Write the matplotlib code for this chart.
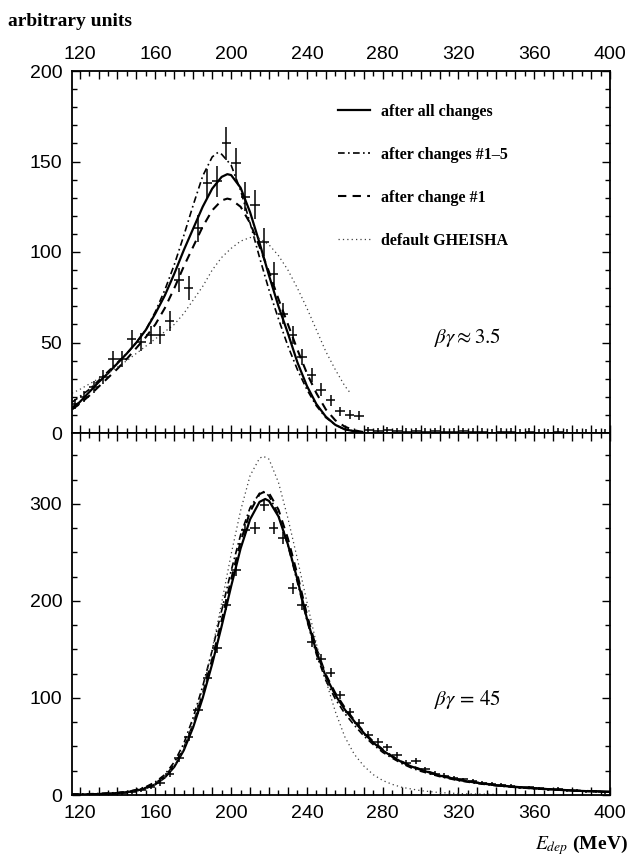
import numpy as np
import matplotlib
matplotlib.use('Agg')
import matplotlib.pyplot as plt
from matplotlib.ticker import MultipleLocator, FuncFormatter
from matplotlib.lines import Line2D

plt.rcParams['font.family'] = ['Liberation Sans', 'DejaVu Sans']
plt.rcParams['mathtext.fontset'] = 'stix'

# 5 MeV bin centres of the measured spectra
e_bins = [117.5, 122.5, 127.5, 132.5, 137.5, 142.5, 147.5, 152.5, 157.5, 162.5,
          167.5, 172.5, 177.5, 182.5, 187.5, 192.5, 197.5, 202.5, 207.5, 212.5,
          217.5, 222.5, 227.5, 232.5, 237.5, 242.5, 247.5, 252.5, 257.5, 262.5,
          267.5, 272.5, 277.5, 282.5, 287.5, 292.5, 297.5, 302.5, 307.5, 312.5,
          317.5, 322.5, 327.5, 332.5, 337.5, 342.5, 347.5, 352.5, 357.5, 362.5,
          367.5, 372.5, 377.5, 382.5, 387.5, 392.5, 397.5]

# beta*gamma ~ 3.5 data
top_data = [16, 20, 25.5, 31, 41, 41, 52, 50.5, 54, 54,
            62, 84.5, 80, 113, 138, 139, 160, 149, 130.5, 126,
            105.5, 88, 66, 54, 42, 32, 24, 18, 12, 10,
            9.5, 1.5, 1, 1.5, 1, 0.5, 1, 0.5, 1, 0.5,
            0.5, 1, 0.5, 0.5, 0, 0.5, 0.5, 0, 0.5, 0,
            0, 0.5, 0, 0, 0, 0, 0]
top_err = [3, 3, 3.5, 4, 4.5, 4.5, 5, 5, 5, 5,
           5.5, 6.5, 6.5, 7.5, 8, 8.5, 9, 8.5, 8, 8,
           7.5, 6.5, 6, 5, 4.5, 4, 3.5, 3, 2.5, 2.5,
           2.5, 2, 2, 2, 2, 2, 2, 2, 2, 2,
           2, 2, 2, 2, 2, 2, 2, 2, 2, 2,
           2, 2, 2, 2, 2, 2, 2]

# beta*gamma = 45 data
bot_data = [0.5, 0.5, 1, 1, 1.5, 2, 3, 5, 8, 12,
            22, 38, 60, 88, 121, 151, 196, 232, 273, 275,
            299, 275, 265, 213, 196, 158, 140, 126, 103, 86,
            74, 62, 55, 49, 41, 33, 35, 26.5, 22, 20,
            18, 16, 14, 12.5, 11, 10.5, 9, 8, 8, 7,
            6, 6.5, 5, 4.5, 4, 4, 3]
bot_err = [1, 1, 1, 1, 1, 1.5, 1.5, 2, 2, 2.5,
           3, 3.5, 4, 4.5, 5, 5, 5.5, 6, 6, 6,
           6.5, 6, 6, 5.5, 5.5, 5, 5, 4.5, 4.5, 4,
           4, 3.5, 3.5, 3.5, 3, 3, 3, 2.5, 2.5, 2.5,
           2, 2, 2, 2, 2, 2, 2, 1.5, 1.5, 1.5,
           1.5, 1.5, 1.5, 1.5, 1.5, 1.5, 1.5]

# simulated curves, top panel
e_top = [116, 120, 125, 130, 135, 140, 145, 150, 155, 160, 165, 170, 175, 180,
         185, 190, 195, 198, 200, 205, 210, 215, 220, 225, 230, 235, 240, 245,
         250, 255, 260, 265, 270]
top_all = [14, 17, 22.5, 28, 33, 38.5, 44, 50, 57, 66, 76, 88, 101, 113,
           125, 135, 141.5, 143, 142.5, 135.5, 122, 105, 87, 70, 55, 39, 26, 16,
           9, 4.5, 2, 1, 0]
top_c1 = [13, 16, 20.5, 25.5, 30.5, 35.5, 41, 47, 53, 60, 69, 80, 92, 103,
          114, 123, 128.5, 129.5, 129, 125, 116, 103, 89, 74, 60, 46, 33, 22,
          13, 7, 3.5, 1.5, 0.5]
e_top15 = [116, 120, 125, 130, 135, 140, 145, 150, 155, 160, 165, 170, 175, 180,
           185, 190, 193, 195, 200, 205, 210, 215, 220, 225, 230, 235, 240, 245,
           250, 255, 260, 265, 270]
top_c15 = [17, 20, 24, 29, 34, 39, 44, 50, 57, 67, 79, 93, 109, 126,
           142, 152.5, 155, 154, 148, 134, 116, 97, 79, 63, 48, 35, 24, 15,
           8.5, 4.5, 2, 1, 0]
e_topg = [116, 120, 125, 130, 135, 140, 145, 150, 155, 160, 165, 170, 175, 180,
          185, 190, 195, 200, 205, 210, 215, 220, 225, 230, 235, 240, 245, 250,
          255, 260, 263]
top_gh = [22, 24, 27, 30, 33, 36.5, 40, 44, 48, 52, 56, 60, 66, 73.5,
          81, 90, 97, 102, 106, 108, 107.5, 104, 98, 90, 80, 69, 57, 45,
          35, 26, 22]

# simulated curves, bottom panel
e_bot = [116, 120, 130, 140, 145, 150, 155, 160, 165, 170, 175, 180, 185, 190,
         195, 200, 205, 210, 215, 218, 220, 225, 230, 235, 240, 245, 250, 255,
         260, 265, 270, 275, 280, 285, 290, 295, 300, 310, 320, 330, 340, 350,
         360, 370, 380, 390, 400]
bot_all = [0.5, 0.5, 1, 2, 3, 4.5, 7, 11, 18, 29, 46, 70, 100, 135,
           174, 215, 254, 284, 302, 305, 303, 287, 258, 222, 182, 148, 122, 103,
           88, 76, 64, 54, 46, 39.5, 34, 29.5, 26, 20, 15.5, 12.5, 10, 8.2,
           6.8, 5.6, 4.6, 3.8, 3.2]
bot_c1 = [0.5, 0.5, 1, 2, 3, 5, 7.5, 12, 19, 31, 48, 73, 104, 140,
          180, 222, 261, 292, 310, 313, 311, 294, 264, 227, 186, 151, 124, 105,
          90, 77, 65, 55, 47, 40, 34.5, 30, 26.5, 20.5, 16, 12.8, 10.3, 8.5,
          7, 5.8, 4.8, 4, 3.4]
bot_c15 = [1, 1, 1.5, 2.5, 3.5, 5.5, 8.5, 13.5, 21, 34, 53, 80, 112, 149,
           190, 231, 268, 296, 311, 312, 308, 289, 257, 219, 180, 145, 118, 99,
           84, 72, 61, 52, 44, 38, 32.5, 28, 24.5, 19, 14.8, 11.8, 9.5, 7.8,
           6.4, 5.3, 4.4, 3.6, 3]
e_botg = [116, 120, 130, 140, 150, 155, 160, 165, 170, 175, 180, 185, 190, 195,
          200, 205, 210, 215, 217, 220, 225, 230, 235, 240, 245, 250, 255, 260,
          265, 270, 275, 280, 285, 290, 300, 310, 320, 330, 340]
bot_gh = [0.2, 0.3, 0.8, 1.5, 4, 6.5, 11, 18, 30, 48, 74, 108, 150, 198,
          248, 293, 329, 347, 349, 346, 322, 285, 243, 199, 156, 118, 86, 60,
          42, 30, 21, 15, 11, 8, 4.5, 2.5, 1.5, 1, 0.6]

legend_labels = ['after all changes', 'after changes #1\u20135',
                 'after change #1', 'default GHEISHA']

st_all = dict(color='black', lw=1.6, ls='-')
st_15 = dict(color='black', lw=1.2, ls=(0, (4, 2, 1, 2)))
st_1 = dict(color='black', lw=1.5, ls=(0, (4, 3)))
st_gh = dict(color='0.25', lw=0.9, ls=(0, (1, 2.5)))

fig = plt.figure(figsize=(6.38, 8.56), dpi=100)
ax1 = fig.add_axes([72 / 638, 423 / 856, 538 / 638, 362 / 856])
ax2 = fig.add_axes([72 / 638, 61 / 856, 538 / 638, 362 / 856])

ax1.plot(e_top, top_all, **st_all)
ax1.plot(e_top15, top_c15, **st_15)
ax1.plot(e_top, top_c1, **st_1)
ax1.plot(e_topg, top_gh, **st_gh)
ax1.errorbar(e_bins, top_data, yerr=top_err, xerr=2.5, fmt='none',
             ecolor='black', elinewidth=1.1, capsize=0)

ax2.plot(e_bot, bot_all, **st_all)
ax2.plot(e_bot, bot_c15, **st_15)
ax2.plot(e_bot, bot_c1, **st_1)
ax2.plot(e_botg, bot_gh, **st_gh)
ax2.errorbar(e_bins, bot_data, yerr=bot_err, xerr=2.5, fmt='none',
             ecolor='black', elinewidth=1.1, capsize=0)

lab40 = FuncFormatter(lambda v, p: '%d' % round(v) if abs(v % 40) < 1e-6 else '')

for ax in (ax1, ax2):
    ax.set_xlim(116, 400)
    ax.xaxis.set_major_locator(MultipleLocator(10))
    ax.xaxis.set_minor_locator(MultipleLocator(5))
    ax.xaxis.set_major_formatter(lab40)
    ax.tick_params(which='both', direction='in', top=True, right=True,
                   labelsize=14, width=1.0, pad=7)
    ax.tick_params(which='major', length=6)
    ax.tick_params(which='minor', length=3.5)
    for s in ax.spines.values():
        s.set_linewidth(1.3)

ax1.set_ylim(0, 200)
ax1.yaxis.set_major_locator(MultipleLocator(50))
ax1.yaxis.set_minor_locator(MultipleLocator(10))
ax1.tick_params(axis='x', labeltop=True, labelbottom=False, pad=6)

ax2.set_ylim(0, 373)
ax2.yaxis.set_major_locator(MultipleLocator(100))
ax2.yaxis.set_minor_locator(MultipleLocator(25))

ax1.text(325, 53, r'$\beta\gamma \approx 3.5$', fontsize=15, ha='center', va='center')
ax2.text(325, 98, r'$\beta\gamma\, =\, 45$', fontsize=15, ha='center', va='center')

handles = [Line2D([], [], **st_all), Line2D([], [], **st_15),
           Line2D([], [], **st_1), Line2D([], [], **st_gh)]
ax1.legend(handles, legend_labels, loc='upper left', bbox_to_anchor=(0.494, 0.91),
           frameon=False, handlelength=2.0, handletextpad=0.7, labelspacing=1.7,
           borderpad=0, borderaxespad=0,
           prop=dict(family='Liberation Serif', weight='bold', size=11.5))

fig.text(8 / 638, 1 - 22 / 856, 'arbitrary units', family='Liberation Serif',
         weight='bold', fontsize=14, ha='left', va='center')
fig.text(628 / 638, 11 / 856, r'$E_{dep}$ (MeV)', family='Liberation Serif',
         weight='bold', fontsize=14, ha='right', va='center')

fig.savefig('out.png', dpi=100)
